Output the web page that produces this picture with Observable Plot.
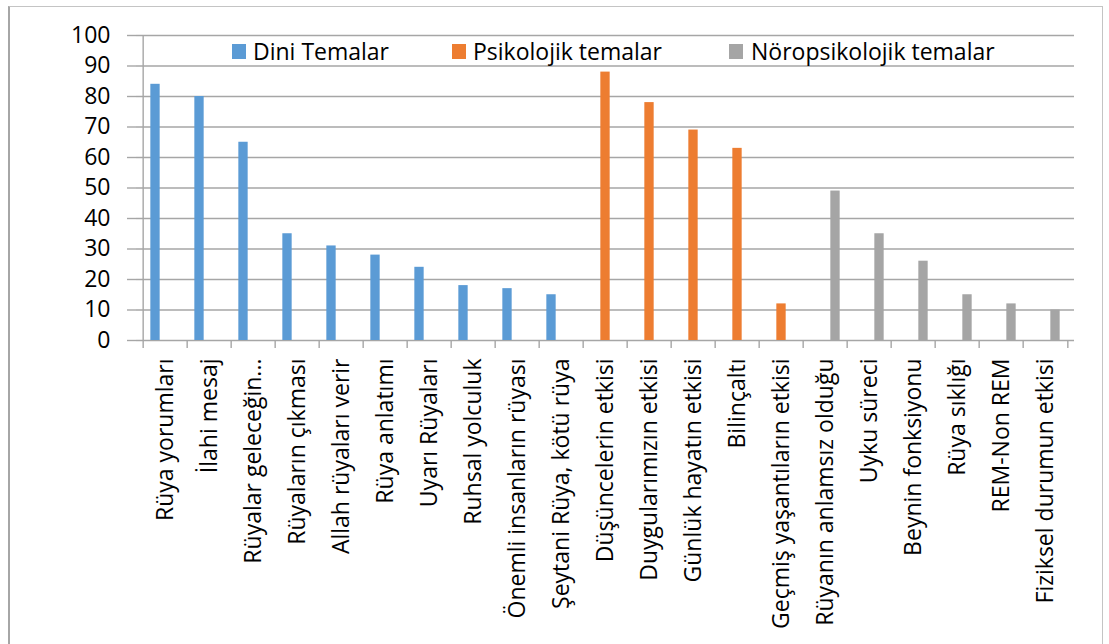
<!DOCTYPE html>
<html>
<head>
<meta charset="utf-8">
<script src="https://cdn.jsdelivr.net/npm/d3@7"></script>
<script src="https://cdn.jsdelivr.net/npm/@observablehq/plot@0.6"></script>
<style>
  html, body { margin: 0; padding: 0; background: #fff; }
  body { position: relative; width: 1109px; height: 644px; overflow: hidden; font-family: "Open Sans", sans-serif; }
  #box { position: absolute; left: 8px; top: 6px; width: 1095px; height: 700px; border: 1px solid #c4c4c4; border-left: 2px solid #a6a6a6; box-sizing: border-box; pointer-events: none; }
  #chart { position: absolute; left: 0; top: 0; }
  .leg { position: absolute; top: 36px; height: 30px; line-height: 30px; font-size: 23px; color: #000; white-space: nowrap; }
  .sw { position: absolute; width: 14px; height: 15px; top: 44px; }
</style>
</head>
<body>
<div id="box"></div>
<div id="chart"></div>
<div id="legend"></div>
<script>
const categories = [
  "Rüya yorumları", "İlahi mesaj", "Rüyalar geleceğin...", "Rüyaların çıkması",
  "Allah rüyaları verir", "Rüya anlatımı", "Uyarı Rüyaları", "Ruhsal yolculuk",
  "Önemli insanların rüyası", "Şeytani Rüya, kötü rüya",
  "Düşüncelerin etkisi", "Duygularımızın etkisi", "Günlük hayatın etkisi",
  "Bilinçaltı", "Geçmiş yaşantıların etkisi",
  "Rüyanın anlamsız olduğu", "Uyku süreci", "Beynin fonksiyonu",
  "Rüya sıklığı", "REM-Non REM", "Fiziksel durumun etkisi"
];
const values = [84, 80, 65, 35, 31, 28, 24, 18, 17, 15,
                88, 78, 69, 63, 12,
                49, 35, 26, 15, 12, 10];
const seriesNames = ["Dini Temalar", "Psikolojik temalar", "Nöropsikolojik temalar"];
const seriesOf = [0,0,0,0,0,0,0,0,0,0, 1,1,1,1,1, 2,2,2,2,2,2];
const seriesColors = ["#5b9bd5", "#ed7d31", "#a5a5a5"];
const yTicks = [0, 10, 20, 30, 40, 50, 60, 70, 80, 90, 100];

const data = categories.map((c, i) => ({category: c, value: values[i], s: seriesOf[i]}));

const W = 1109, H = 644;
const mL = 136, mR = 35, mT = 35, mB = 304;
const bw = (W - mL - mR) / categories.length;
const barW = 10;
const inset = (bw - barW) / 2;
const gridColor = "#a6a6a6";

const barMarks = seriesNames.map((name, k) =>
  Plot.barY(data.filter(d => d.s === k), {
    x: "category", y: "value", fill: seriesColors[k],
    insetLeft: inset, insetRight: inset, dx: (k - 1) * barW
  })
);

const chart = Plot.plot({
  width: W, height: H,
  marginLeft: mL, marginRight: mR, marginTop: mT, marginBottom: mB,
  style: {fontFamily: "Open Sans", fontSize: "23px", color: "#000", background: "transparent"},
  x: {type: "band", domain: categories, padding: 0, label: null},
  y: {domain: [0, 100], label: null},
  marks: [
    Plot.gridY(yTicks, {stroke: gridColor, strokeOpacity: 1, strokeWidth: 1.4}),
    ...barMarks,
    Plot.ruleX([categories[0]], {dx: -bw / 2, y1: 0, y2: 100, stroke: gridColor, strokeWidth: 1.4}),
    Plot.axisY(yTicks, {tickSize: 9, tickPadding: 17, stroke: gridColor, strokeWidth: 1.4, fill: "#000", fontSize: 23, label: null}),
    Plot.axisX({tickSize: 8, tickFormat: () => "", dx: -bw / 2, stroke: gridColor, strokeWidth: 1.4, label: null}),
    Plot.axisX([categories[categories.length - 1]], {tickSize: 8, tickFormat: () => "", dx: bw / 2, stroke: gridColor, strokeWidth: 1.4, label: null}),
    Plot.axisX({tickSize: 0, tickPadding: 18, tickRotate: -90, fill: "#000", fontSize: 23, label: null})
  ]
});
document.getElementById("chart").appendChild(chart);

// Legend (inside plot area, top)
const legendPos = [[232, 253], [452, 473], [729, 751]];
const leg = document.getElementById("legend");
seriesNames.forEach((name, k) => {
  const sw = document.createElement("div");
  sw.className = "sw";
  sw.style.left = legendPos[k][0] + "px";
  sw.style.background = seriesColors[k];
  leg.appendChild(sw);
  const t = document.createElement("div");
  t.className = "leg";
  t.style.left = legendPos[k][1] + "px";
  t.textContent = name;
  leg.appendChild(t);
});
</script>
</body>
</html>
